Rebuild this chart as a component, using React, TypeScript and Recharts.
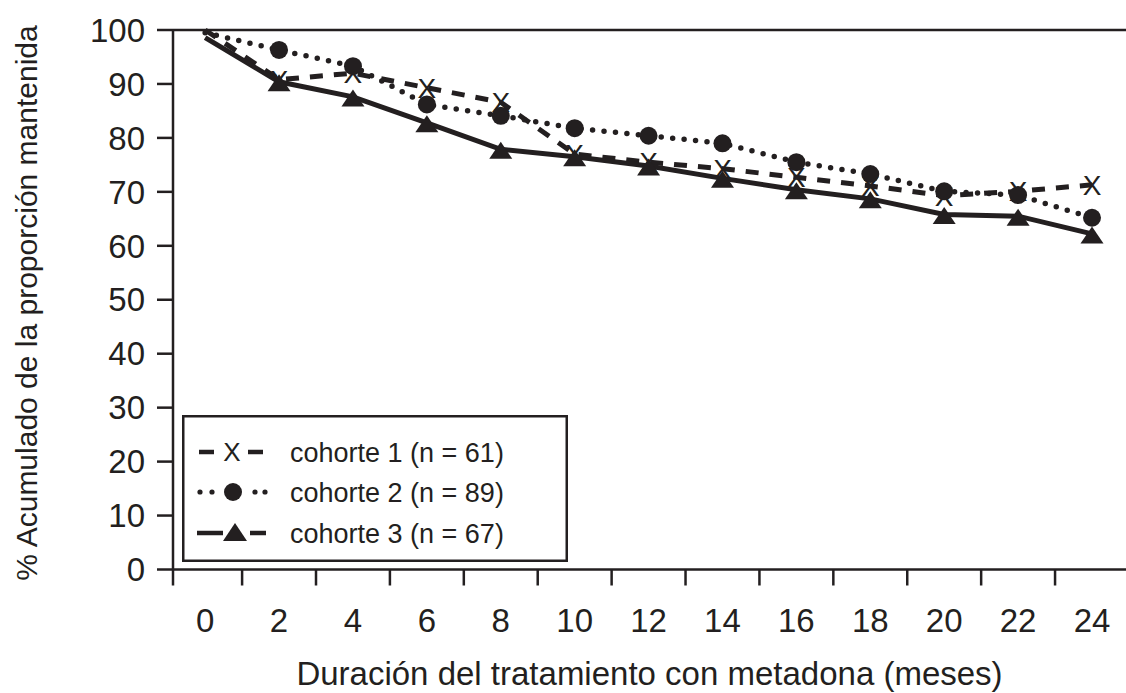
import React from "react";
import { LineChart, Line, XAxis, YAxis, ReferenceLine, Legend, Label } from "recharts";

const INK = "#231f20";
const FONT = "'Liberation Sans', Arial, Helvetica, sans-serif";

// ---- data ----
const months = [0, 2, 4, 6, 8, 10, 12, 14, 16, 18, 20, 22, 24];
const cohorte1 = [100, 90.8, 92.0, 89.3, 86.6, 77.0, 75.5, 74.3, 72.7, 71.1, 69.3, 70.1, 71.3];
const cohorte2 = [99.5, 96.3, 93.3, 86.2, 84.1, 81.8, 80.4, 79.0, 75.5, 73.3, 70.1, 69.4, 65.2];
const cohorte3 = [98.6, 90.4, 87.6, 82.8, 77.9, 76.5, 74.8, 72.5, 70.4, 68.7, 65.8, 65.5, 62.2];
const seriesNames = ["cohorte 1 (n = 61)", "cohorte 2 (n = 89)", "cohorte 3 (n = 67)"];
const yTicks = [0, 10, 20, 30, 40, 50, 60, 70, 80, 90, 100];
const xMarkTicks = [1, 3, 5, 7, 9, 11, 13, 15, 17, 19, 21, 23];
const xTitle = "Duración del tratamiento con metadona (meses)";
const yTitle = "% Acumulado de la proporción mantenida";

const X_DOMAIN: [number, number] = [-0.87, 24.92];

const data = months.map((m, i) => ({ mes: m, c1: cohorte1[i], c2: cohorte2[i], c3: cohorte3[i] }));
const xTicks = [X_DOMAIN[0], ...[...months, ...xMarkTicks].sort((a, b) => a - b)];

function XTick(props: any) {
  const { x, y, payload } = props;
  const v = payload.value;
  if (months.includes(v)) {
    return (
      <text x={x} y={y + 62} textAnchor="middle" fontSize={33} fill={INK} fontFamily={FONT}>
        {v}
      </text>
    );
  }
  return <line x1={x} x2={x} y1={y} y2={y + 16} stroke={INK} strokeWidth={2.5} />;
}

const XDot = (p: any) => {
  if (p.index === 0 || p.cx == null) return <g key={`x${p.index}`} />;
  return (
    <text key={`x${p.index}`} x={p.cx} y={p.cy} dy="0.36em" textAnchor="middle" fontSize={28} fill={INK} fontFamily={FONT}>
      X
    </text>
  );
};

const CircleDot = (p: any) => {
  if (p.index === 0 || p.cx == null) return <g key={`c${p.index}`} />;
  return <circle key={`c${p.index}`} cx={p.cx} cy={p.cy} r={9} fill={INK} />;
};

const TriDot = (p: any) => {
  if (p.index === 0 || p.cx == null) return <g key={`t${p.index}`} />;
  const { cx, cy } = p;
  return <path key={`t${p.index}`} d={`M${cx},${cy - 7.5} L${cx + 11.5},${cy + 9.5} L${cx - 11.5},${cy + 9.5} Z`} fill={INK} />;
};

function LegendBox() {
  const W = 386;
  const H = 147;
  const rows = [37, 77, 118];
  const tx = 108;
  return (
    <svg width={W} height={H} style={{ display: "block" }}>
      <rect x={1.25} y={1.25} width={W - 2.5} height={H - 2.5} fill="white" stroke={INK} strokeWidth={2.5} />
      <line x1={17} x2={32} y1={rows[0]} y2={rows[0]} stroke={INK} strokeWidth={4.5} />
      <text x={50} y={rows[0]} dy="0.36em" textAnchor="middle" fontSize={26} fill={INK} fontFamily={FONT}>X</text>
      <line x1={66} x2={81} y1={rows[0]} y2={rows[0]} stroke={INK} strokeWidth={4.5} />
      <circle cx={18} cy={rows[1]} r={2.6} fill={INK} />
      <circle cx={30} cy={rows[1]} r={2.6} fill={INK} />
      <circle cx={51} cy={rows[1]} r={9} fill={INK} />
      <circle cx={73} cy={rows[1]} r={2.6} fill={INK} />
      <circle cx={83} cy={rows[1]} r={2.6} fill={INK} />
      <line x1={15} x2={41} y1={rows[2]} y2={rows[2]} stroke={INK} strokeWidth={4.5} />
      <path d={`M53,${rows[2] - 10} L65,${rows[2] + 8} L41,${rows[2] + 8} Z`} fill={INK} />
      <line x1={68} x2={84} y1={rows[2]} y2={rows[2]} stroke={INK} strokeWidth={4.5} />
      {seriesNames.map((n, i) => (
        <text key={n} x={tx} y={rows[i]} dy="0.36em" fontSize={27} fill={INK} fontFamily={FONT}>
          {n}
        </text>
      ))}
    </svg>
  );
}

export default function App() {
  return (
    <div style={{ position: "absolute", left: 0, top: 0, width: 1126, height: 693, background: "white" }}>
      <LineChart width={1126} height={693} data={data} margin={{ top: 30, right: 0, left: 0, bottom: 0 }}>
        <XAxis
          dataKey="mes"
          type="number"
          domain={X_DOMAIN}
          ticks={xTicks}
          interval={0}
          tickSize={0}
          tickMargin={0}
          tickLine={false}
          tick={<XTick />}
          height={123.5}
          axisLine={{ stroke: INK, strokeWidth: 2.5 }}
          allowDataOverflow
        >
          <Label value={xTitle} position="insideBottom" offset={8} fontSize={33} fill={INK} fontFamily={FONT} />
        </XAxis>
        <YAxis
          type="number"
          domain={[0, 100]}
          ticks={yTicks}
          interval={0}
          width={173}
          tickSize={16}
          tickMargin={12}
          tick={{ fontSize: 33, fill: INK, fontFamily: FONT }}
          tickLine={{ stroke: INK, strokeWidth: 2.5 }}
          axisLine={{ stroke: INK, strokeWidth: 2.5 }}
        >
          <Label
            content={() => (
              <text x={37} y={303} transform="rotate(-90 37 303)" textAnchor="middle" fontSize={30} fill={INK} fontFamily={FONT}>
                {yTitle}
              </text>
            )}
          />
        </YAxis>
        <ReferenceLine y={100} stroke={INK} strokeWidth={2.5} />
        <Line
          dataKey="c1"
          name={seriesNames[0]}
          stroke={INK}
          strokeWidth={5}
          strokeDasharray="13 11"
          dot={XDot}
          activeDot={false}
          isAnimationActive={false}
        />
        <Line
          dataKey="c2"
          name={seriesNames[1]}
          stroke={INK}
          strokeWidth={5.5}
          strokeDasharray="0 11.5"
          strokeLinecap="round"
          dot={CircleDot}
          activeDot={false}
          isAnimationActive={false}
        />
        <Line
          dataKey="c3"
          name={seriesNames[2]}
          stroke={INK}
          strokeWidth={5}
          dot={TriDot}
          activeDot={false}
          isAnimationActive={false}
        />
        <Legend
          layout="vertical"
          align="center"
          verticalAlign="middle"
          content={() => <LegendBox />}
          wrapperStyle={{ position: "absolute", left: 182, top: 415, width: 386, height: 147 }}
        />
      </LineChart>
    </div>
  );
}
